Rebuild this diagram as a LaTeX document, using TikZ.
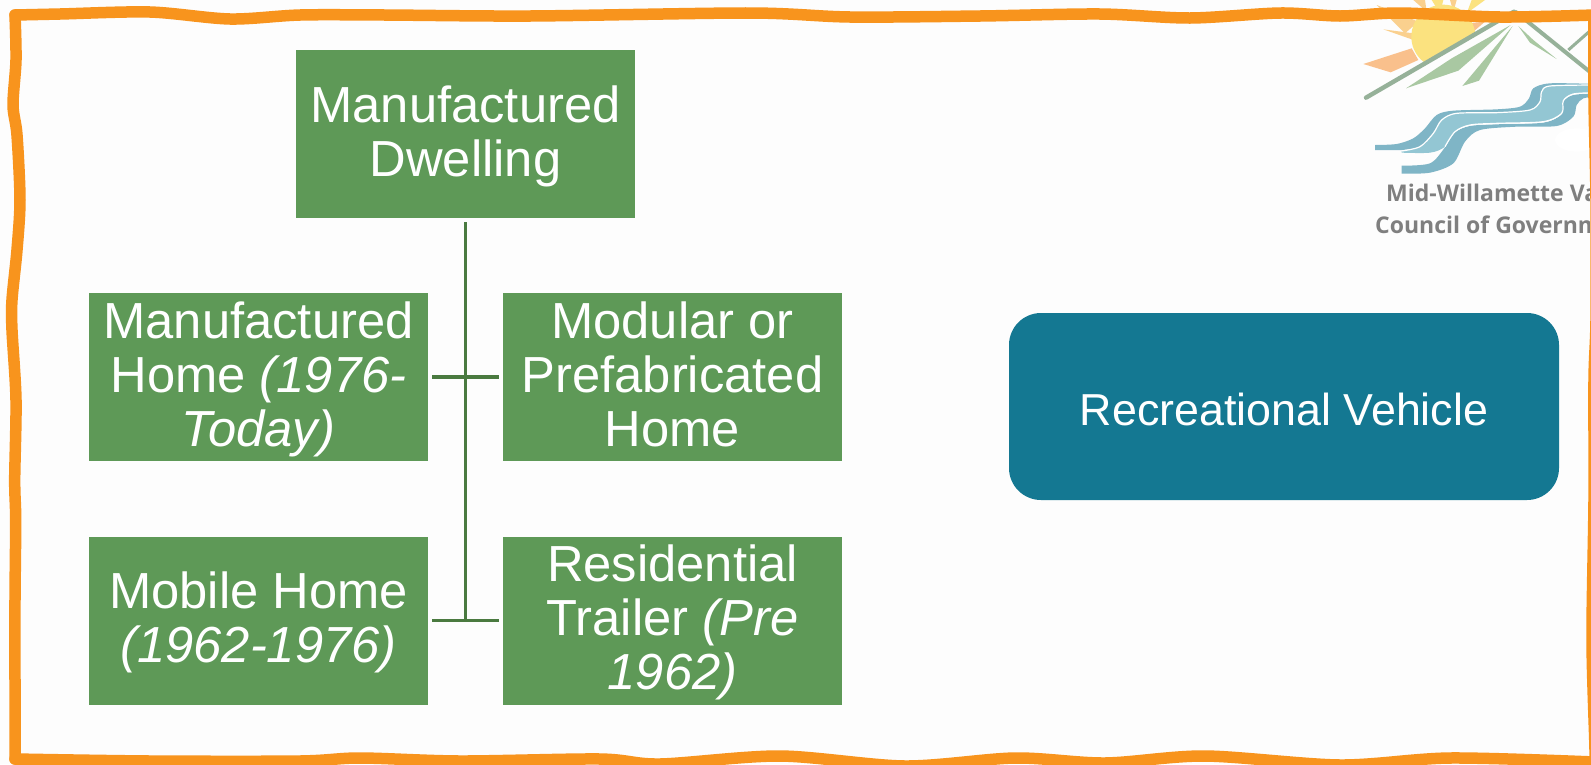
\documentclass[tikz,border=0pt]{standalone}
\usepackage{fontspec}
\setmainfont{Liberation Sans}
\newfontfamily\logofont{Open Sans}
\definecolor{pagebg}{HTML}{FDFDFD}
\definecolor{boxgreen}{HTML}{5E9957}
\definecolor{linkgreen}{HTML}{4A7A40}
\definecolor{rvteal}{HTML}{147892}
\definecolor{frameorange}{HTML}{F8941D}
\definecolor{sunyellow}{HTML}{FBE27F}
\definecolor{rayorange}{HTML}{F9C08C}
\definecolor{raylight}{HTML}{FAD08E}
\definecolor{roofgreen}{HTML}{96B199}
\definecolor{wedgegreen}{HTML}{A9C8A2}
\definecolor{riverdark}{HTML}{7FB5C6}
\definecolor{riverlight}{HTML}{93C6D3}
\definecolor{logotext}{HTML}{7F7F7F}
\newcommand{\boxstrut}{\rule[-12pt]{0pt}{54pt}}
\tikzset{
  kindbox/.style={fill=boxgreen,text=white,minimum width=339pt,minimum height=168pt,inner sep=0pt,align=center,font=\fontsize{50.7}{54}\selectfont},
  link/.style={draw=linkgreen,line width=3.3pt},
  framepath/.style={draw=frameorange,line width=11.5pt,line cap=round,line join=round},
  logoname/.style={text=logotext,font=\logofont\bfseries\fontsize{23}{26}\selectfont,inner sep=0pt,anchor=base west}
}
\begin{document}
\begin{tikzpicture}[x=1pt,y=-1pt]
\useasboundingbox (0,0) rectangle (1591,764);
\fill[pagebg] (0,0) rectangle (1591,764);

% logo, cut off by the frame
\begin{scope}
\clip (1300,0) rectangle (1589,764);
\begin{scope}[shift={(1330,0)},x=0.33333pt,y=-0.33333pt]
\fill[rayorange] (100,192) -- (245,145) -- (265,180) -- (182,217) -- cycle;
\fill[raylight] (160,88) -- (250,100) -- (245,118) -- cycle;
\fill[raylight] (140,15) -- (265,65) -- (225,100) -- cycle;
\fill[raylight] (250,0) -- (285,0) -- (290,35) -- cycle;
\fill[sunyellow] (305,0) -- (340,0) -- (330,40) -- cycle;
\fill[raylight] (360,0) -- (380,0) -- (370,35) -- cycle;
\fill[sunyellow] (410,40) -- (465,0) -- (425,0) -- cycle;
\fill[rayorange] (410,70) -- (465,65) -- (430,95) -- cycle;
\begin{scope}
\clip (108,293) -- (552,35) -- (552,-50) -- (0,-50) -- (0,293) -- cycle;
\fill[sunyellow] (340,110) circle[radius=96];
\end{scope}
\draw[roofgreen,line width=4.4pt,line cap=round] (108,293) -- (552,35);
\draw[roofgreen,line width=4pt] (556,35) -- (800,232);
\draw[roofgreen,line width=3pt] (715,150) -- (800,75);
\fill[wedgegreen] (228,265) -- (385,212) -- (542,75) -- (365,175) -- cycle;
\fill[wedgegreen] (397,258) -- (447,242) -- (548,78) -- cycle;
\fill[wedgegreen] (565,78) -- (600,128) -- (680,177) -- (610,120) -- cycle;
% river ribbons
\fill[riverdark] plot[smooth] coordinates {(135,435) (200,432) (250,415) (285,385) (320,345) (370,332) (500,328) (570,320) (597,295) (610,265) (660,250) (800,252)}
  -- plot[smooth] coordinates {(800,262) (660,262) (635,285) (628,310) (600,332) (500,340) (380,345) (340,365) (310,405) (270,440) (215,450) (135,450)} -- cycle;
\fill[riverlight] plot[smooth] coordinates {(215,453) (270,440) (310,400) (335,360) (380,340) (500,338) (600,330) (630,305) (635,275) (660,258) (800,255)}
  -- plot[smooth] coordinates {(800,278) (730,282) (700,302) (695,340) (640,365) (500,370) (420,375) (375,395) (345,440) (300,458) (215,458)} -- cycle;
\fill[riverdark] plot[smooth] coordinates {(215,497) (300,490) (345,442) (375,397) (420,378) (500,373) (640,368) (695,343) (700,305) (730,285) (800,280)}
  -- plot[smooth] coordinates {(800,290) (760,295) (740,315) (730,350) (680,378) (560,380) (450,390) (405,425) (370,490) (300,518) (215,521)} -- cycle;
\draw[white,line width=1.2pt] plot[smooth] coordinates {(215,453) (270,440) (310,400) (335,360) (380,340) (500,338) (600,330) (630,305) (635,275) (660,258) (800,255)};
\draw[white,line width=1.2pt] plot[smooth] coordinates {(345,440) (375,395) (420,375) (500,370) (640,365) (695,340) (700,302) (730,282) (800,278)};
\fill[white] (740,420) ellipse[x radius=65,y radius=35];
\end{scope}
\node[logoname] (logoa) at (1386,201.5) {Mid-Willamette Va};
\node[logoname] (logob) at (1375,233) {Council of Governm};
\end{scope}

% frame
\path[framepath] plot[smooth] coordinates {(15,15) (60,14) (150,12) (230,19) (300,15) (385,15) (530,16) (750,13) (850,17) (980,16) (1100,14) (1190,18) (1280,13) (1340,16) (1400,13) (1500,17) (1594,15)};
\path[framepath] plot[smooth] coordinates {(15,15) (16,60) (13,105) (17,135) (20,200) (17,250) (12,300) (12,330) (16,400) (14.7,480) (15.7,520) (15,600) (15,680) (15,759)};
\path[framepath] plot[smooth] coordinates {(15,759) (150,761) (300,761) (360,758) (460,761) (600,759) (660,764) (780,756) (905,766) (1015,758) (1105,763) (1205,756) (1340,765) (1450,758) (1594,762)};
\path[framepath] plot[smooth] coordinates {(1594,15) (1594,100) (1596,200) (1596,320) (1594,380) (1594,500) (1592,640) (1595,750) (1594,762)};

% diagram
\node[kindbox] (dwelling) at (465.5,134) {\boxstrut Manufactured\\Dwelling\boxstrut};
\node[kindbox] (home) at (258.5,377) {\boxstrut Manufactured\\Home \textit{(1976-}\\\textit{Today)}\boxstrut};
\node[kindbox] (modular) at (672.5,377) {\boxstrut Modular or\\Prefabricated\\Home\boxstrut};
\node[kindbox] (mobile) at (258.5,620.5) {\boxstrut Mobile Home\\\textit{(1962-1976)}\boxstrut};
\node[kindbox] (trailer) at (672.5,620.5) {\boxstrut Residential\\Trailer \textit{(Pre}\\\textit{1962)}\boxstrut};
\node[fill=rvteal,text=white,rounded corners=32pt,minimum width=550pt,minimum height=187pt,inner sep=0pt,font=\fontsize{44.8}{50}\selectfont] (rv) at (1284,406.5) {\rule[-13pt]{0pt}{63pt}Recreational Vehicle};

\coordinate (base) at (dwelling.south |- mobile.east);
\draw[link,shorten <=4pt] (dwelling.south) -- (base);
\draw[link,shorten <=4pt,shorten >=4pt] (home.east) -- (modular.west);
\draw[link,shorten <=4pt,shorten >=4pt] (mobile.east) -- (trailer.west);
\end{tikzpicture}
\end{document}
